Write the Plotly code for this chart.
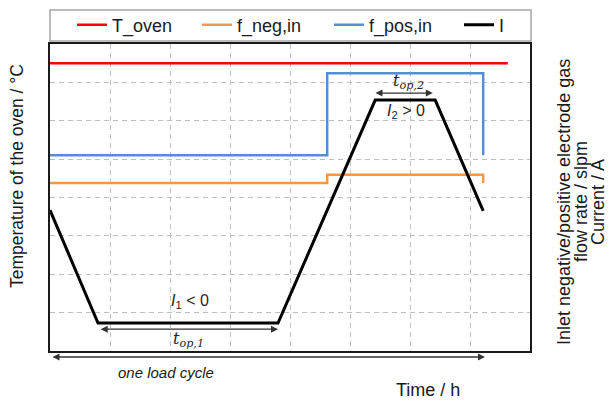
import plotly.graph_objects as go

# ---- data (arbitrary units: time / h on x, normalized level on y) ----
t_oven_x = [0, 7.63]
t_oven_y = [7.5, 7.5]

f_neg_x = [0, 4.62, 4.62, 7.22, 7.22]
f_neg_y = [4.38, 4.38, 4.59, 4.59, 4.38]

f_pos_x = [0, 4.62, 4.62, 7.22, 7.22]
f_pos_y = [5.1, 5.1, 7.24, 7.24, 5.1]

i_x = [0, 0.8, 3.8, 5.42, 6.42, 7.22]
i_y = [3.67, 0.73, 0.73, 6.54, 6.54, 3.65]

series_names = ["T_oven", "f_neg,in", "f_pos,in", "I"]
series_colors = ["#FF0000", "#F79646", "#558ED5", "#000000"]

# annotation positions (data coords)
top1_arrow = (0.82, 3.8, 0.57)
top2_arrow = (5.4, 6.38, 6.72)
cycle_arrow = (0.017, 7.25)

FONT = "Liberation Sans"
W, H = 611, 400
L, R, T, B = 50, 81, 44, 49
pw, ph = W - L - R, H - T - B


def px_to_paper(px, py):
    return (px - L) / pw, (H - B - py) / ph


fig = go.Figure()
xs = [t_oven_x, f_neg_x, f_pos_x, i_x]
ys = [t_oven_y, f_neg_y, f_pos_y, i_y]
widths = [2.5, 2.5, 2.5, 3]
legend_ids = ["legend", "legend2", "legend3", "legend4"]
legend_px = [72, 197, 329, 459]
for x, y, n, c, w, lg in zip(xs, ys, series_names, series_colors, widths, legend_ids):
    fig.add_trace(go.Scatter(x=x, y=y, mode="lines", name=n, legend=lg,
                             line=dict(color=c, width=w), hoverinfo="skip"))

axis_common = dict(range=[0, 8], dtick=1, tick0=0, showgrid=True,
                   gridcolor="#BFBFBF", griddash="5px,4px", gridwidth=1.2,
                   zeroline=False, showticklabels=False, ticks="",
                   showline=True, mirror=True, linecolor="#1a1a1a", linewidth=2,
                   fixedrange=True)

layout_legends = {}
for lg, lpx in zip(legend_ids, legend_px):
    lx, ly = px_to_paper(lpx, 25)
    layout_legends[lg] = dict(orientation="h", x=lx, y=ly, xanchor="left", yanchor="middle",
                              font=dict(size=18, family=FONT, color="#1a1a1a"),
                              bgcolor="rgba(0,0,0,0)", itemwidth=30, borderwidth=0)

fig.update_layout(
    width=W, height=H,
    margin=dict(l=L, r=R, t=T, b=B, pad=0, autoexpand=False),
    plot_bgcolor="white", paper_bgcolor="white",
    font=dict(family=FONT, size=18, color="#1a1a1a"),
    xaxis=axis_common, yaxis=axis_common,
    showlegend=True,
    **layout_legends,
)

# legend frame
x0, y1 = px_to_paper(50, 10)
x1, y0 = px_to_paper(531, 41)
fig.add_shape(type="rect", xref="paper", yref="paper", x0=x0, x1=x1, y0=y0, y1=y1,
              line=dict(color="#A6A6A6", width=1.5), fillcolor="rgba(0,0,0,0)")

ann = []
arrow_style = dict(showarrow=True, arrowhead=2, arrowsize=1, arrowwidth=1.4,
                   arrowcolor="#333333", arrowside="end+start", standoff=0,
                   startstandoff=0, startarrowhead=2, startarrowsize=1, text="")
ann.append(dict(xref="x", yref="y", x=top1_arrow[1], y=top1_arrow[2],
                axref="x", ayref="y", ax=top1_arrow[0], ay=top1_arrow[2], **arrow_style))
ann.append(dict(xref="x", yref="y", x=top2_arrow[1], y=top2_arrow[2],
                axref="x", ayref="y", ax=top2_arrow[0], ay=top2_arrow[2], **arrow_style))
_, ycyc = px_to_paper(0, 357)
ann.append(dict(xref="x", yref="paper", x=cycle_arrow[1], y=ycyc,
                axref="x", ayref="pixel", ax=cycle_arrow[0], ay=0, **arrow_style))

txt = dict(showarrow=False, xanchor="center", yanchor="middle")
ann.append(dict(xref="x", yref="y", x=2.33, y=1.30,
                text="<i>I</i><sub>1</sub> &lt; 0", font=dict(size=16, family=FONT, color="#262626"), **txt))
ann.append(dict(xref="x", yref="y", x=2.3, y=0.29,
                text="<i>t</i><sub><i>op,1</i></sub>", font=dict(size=16, family="DejaVu Serif", color="#262626"), **txt))
ann.append(dict(xref="x", yref="y", x=5.97, y=7.01,
                text="<i>t</i><sub><i>op,2</i></sub>", font=dict(size=16, family="DejaVu Serif", color="#262626"), **txt))
ann.append(dict(xref="x", yref="y", x=5.93, y=6.23,
                text="<i>I</i><sub>2</sub> &gt; 0", font=dict(size=16, family=FONT, color="#262626"), **txt))

# one load cycle
cx, cy = px_to_paper(166, 372)
ann.append(dict(xref="paper", yref="paper", x=cx, y=cy, text="<i>one load cycle</i>",
                font=dict(size=15, family=FONT, color="#1a1a1a"), **txt))
# x title
tx, ty = px_to_paper(428, 390)
ann.append(dict(xref="paper", yref="paper", x=tx, y=ty, text="Time / h",
                font=dict(size=18, family=FONT, color="#1a1a1a"), **txt))
# left title
lx, ly = px_to_paper(17, 176)
ann.append(dict(xref="paper", yref="paper", x=lx, y=ly, textangle=-90,
                text="Temperature of the oven / °C",
                font=dict(size=17.5, family=FONT, color="#1a1a1a"), **txt))
# right title lines
for line_txt, px in [("Inlet negative/positive electrode gas", 564),
                     ("flow rate / slpm", 581), ("Current / A", 598)]:
    rx, ry = px_to_paper(px, 202)
    ann.append(dict(xref="paper", yref="paper", x=rx, y=ry, textangle=-90,
                    text=line_txt, font=dict(size=18, family=FONT, color="#1a1a1a"), **txt))

fig.update_layout(annotations=ann)
fig.write_html("out.html", config={"displayModeBar": False},
               post_script="document.body.style.margin='0';document.body.style.padding='0';")
